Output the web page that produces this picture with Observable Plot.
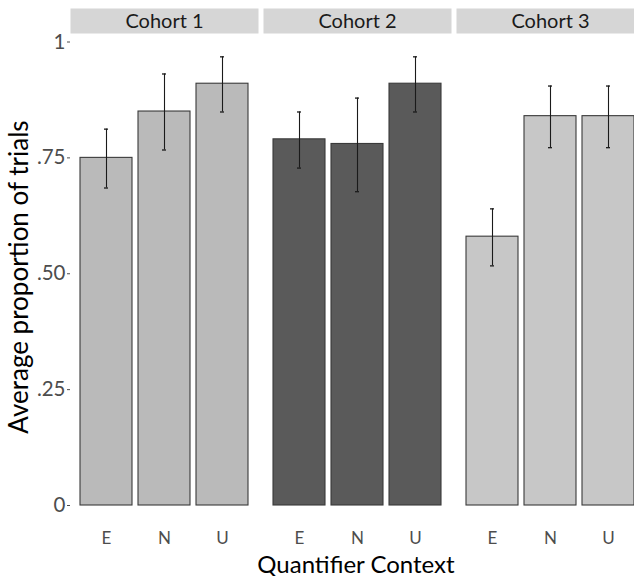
<!DOCTYPE html>
<html><head><meta charset="utf-8">
<script src="https://cdn.jsdelivr.net/npm/d3@7"></script>
<script src="https://cdn.jsdelivr.net/npm/@observablehq/plot@0.6"></script>
<style>
html,body{margin:0;padding:0;overflow:hidden;background:#fff;}
#chart{width:634px;height:576px;overflow:hidden;}
#chart svg{display:block;max-width:none !important;}
</style></head><body><div id="chart"></div>
<script>
// ---- data ----
const cohorts = ["Cohort 1", "Cohort 2", "Cohort 3"];
const contexts = ["E", "N", "U"];
const meanValues = [
  [0.75, 0.85, 0.91],
  [0.79, 0.78, 0.91],
  [0.58, 0.84, 0.84]
];
const lowerValues = [
  [0.685, 0.767, 0.849],
  [0.728, 0.677, 0.849],
  [0.517, 0.772, 0.772]
];
const upperValues = [
  [0.812, 0.931, 0.968],
  [0.849, 0.879, 0.968],
  [0.640, 0.905, 0.905]
];
const yTicks = [0, 0.25, 0.5, 0.75, 1];
const yTickLabels = ["0", ".25", ".50", ".75", "1"];
const xTitle = "Quantifier Context";
const yTitle = "Average proportion of trials";

const rows = cohorts.flatMap((c, i) => contexts.map((k, j) => ({
  cohort: c, context: k,
  mean: meanValues[i][j], lo: lowerValues[i][j], hi: upperValues[i][j]
})));

// ---- layout ----
const W = 644, H = 576, mL = 70, mR = 0, mT = 41.5, mB = 71;
const font = "Lato, 'Open Sans', sans-serif";

const plot = Plot.plot({
  width: W, height: H,
  marginLeft: mL, marginRight: mR, marginTop: mT, marginBottom: mB,
  style: {fontFamily: font, background: "white", overflow: "visible"},
  fx: {domain: cohorts, paddingInner: 5 / 193, axis: null},
  x: {domain: contexts, paddingInner: 0.1, paddingOuter: 0.15, axis: null},
  y: {domain: [0, 1], axis: null},
  color: {domain: cohorts, range: ["#bababa", "#5a5a5a", "#c7c7c7"]},
  marks: [
    Plot.frame({fill: "#d6d6d6", stroke: null, insetTop: 8 - mT, insetBottom: (H - mB) - 33}),
    Plot.text(cohorts, {fx: d => d, text: d => d, frameAnchor: "top", lineAnchor: "middle",
      dy: 21 - mT, fontSize: 20, fill: "#1a1a1a"}),
    Plot.barY(rows, {fx: "cohort", x: "context", y: "mean", fill: "cohort",
      stroke: "#3a3a3a", strokeWidth: 1.1}),
    Plot.ruleX(rows, {fx: "cohort", x: "context", y1: "lo", y2: "hi",
      stroke: "#1a1a1a", strokeWidth: 1.1}),
    Plot.tickY(rows, {fx: "cohort", x: "context", y: "lo", insetLeft: 24, insetRight: 24,
      stroke: "#1a1a1a", strokeWidth: 1.3}),
    Plot.tickY(rows, {fx: "cohort", x: "context", y: "hi", insetLeft: 24, insetRight: 24,
      stroke: "#1a1a1a", strokeWidth: 1.3}),
    Plot.axisY({ticks: yTicks, tickFormat: d => yTickLabels[yTicks.indexOf(d)],
      tickSize: 3, tickPadding: 2, fontSize: 20.5, color: "#4d4d4d", label: null}),
    Plot.axisX({tickSize: 0, tickPadding: 26.5, fontSize: 17, color: "#4d4d4d", label: null})
  ]
});
plot.style.maxWidth = "none";
plot.style.width = W + "px";
plot.style.height = H + "px";

const svg = d3.select(plot);
svg.append("text")
  .attr("x", mL + (W - mL) / 2 - 1).attr("y", 572.5)
  .attr("text-anchor", "middle")
  .attr("font-size", 24).attr("fill", "#000")
  .attr("font-family", font)
  .text(xTitle);
svg.append("text")
  .attr("transform", "translate(28,277) rotate(-90)")
  .attr("text-anchor", "middle")
  .attr("font-size", 26).attr("fill", "#000")
  .attr("font-family", font)
  .text(yTitle);

document.getElementById("chart").appendChild(plot);
</script>
</body></html>
